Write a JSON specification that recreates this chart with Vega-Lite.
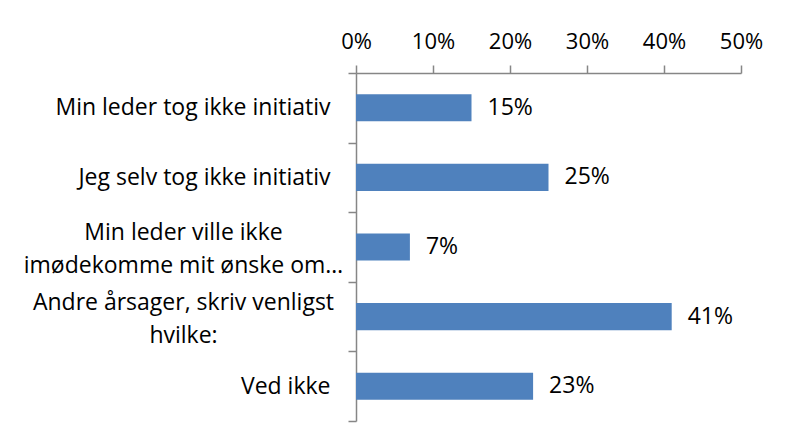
{
  "$schema": "https://vega.github.io/schema/vega-lite/v6.json",
  "width": 385,
  "height": 348,
  "autosize": {"type": "none"},
  "padding": {"left": 356, "top": 73, "right": 45, "bottom": 25},
  "background": "white",
  "config": {"view": {"stroke": null}, "font": "Open Sans"},
  "data": {"values": [
    {"label": "Min leder tog ikke initiativ", "value": 0.15},
    {"label": "Jeg selv tog ikke initiativ", "value": 0.25},
    {"label": "Min leder ville ikke|imødekomme mit ønske om…", "value": 0.07},
    {"label": "Andre årsager, skriv venligst|hvilke:", "value": 0.41},
    {"label": "Ved ikke", "value": 0.23}
  ]},
  "encoding": {
    "x": {
      "field": "value", "type": "quantitative",
      "scale": {"domain": [0, 0.5]},
      "axis": {
        "orient": "top", "title": null,
        "values": [0, 0.1, 0.2, 0.3, 0.4, 0.5],
        "format": ".0%", "grid": false,
        "tickSize": 8, "labelPadding": 12,
        "domainColor": "#868686", "tickColor": "#868686",
        "domainWidth": 1.5, "tickWidth": 1.5,
        "labelFontSize": 22, "labelColor": "black", "labelFlush": false
      }
    }
  },
  "resolve": {"axis": {"y": "independent"}},
  "layer": [
    {
      "mark": {"type": "bar", "color": "#4F81BD", "height": {"band": 0.39}},
      "encoding": {
        "y": {
          "field": "label", "type": "nominal", "sort": null,
          "scale": {"paddingInner": 0, "paddingOuter": 0},
          "axis": {
            "orient": "left",
            "title": null,
            "tickBand": "extent",
            "tickSize": 8,
            "domainColor": "#868686",
            "tickColor": "#868686",
            "domainWidth": 1.5,
            "tickWidth": 1.5,
            "labelFontSize": 23,
            "labelColor": "black",
            "labelLimit": 400,
            "labelOverlap": false,
            "labelExpr": "indexof(datum.label, '|') >= 0 ? '' : datum.label",
            "labelPadding": 18
          }
        }
      }
    },
    {
      "mark": {"type": "text", "align": "left", "dx": 16, "fontSize": 23, "color": "black"},
      "encoding": {
        "y": {
          "field": "label", "type": "nominal", "sort": null,
          "axis": {
            "orient": "left",
            "title": null,
            "domain": false,
            "ticks": false,
            "labelFontSize": 23,
            "labelColor": "black",
            "labelLimit": 400,
            "labelOverlap": false,
            "labelExpr": "indexof(datum.label, '|') >= 0 ? split(datum.label, '|') : ''",
            "labelLineHeight": 33,
            "labelAlign": "center",
            "labelOffset": -14,
            "labelPadding": 173
          }
        },
        "text": {"field": "value", "type": "quantitative", "format": ".0%"}
      }
    }
  ]
}
